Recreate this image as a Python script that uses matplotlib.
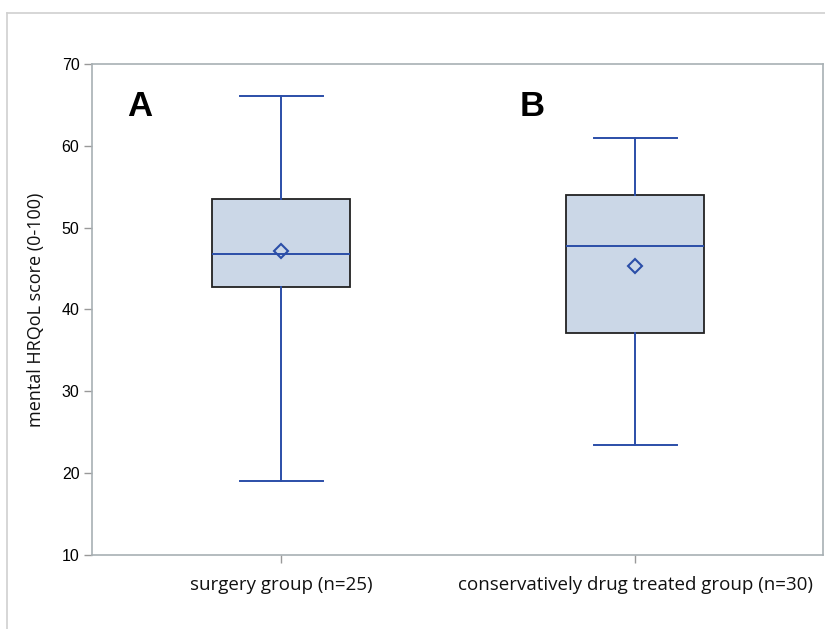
import matplotlib
matplotlib.use("Agg")
import matplotlib.pyplot as plt
from matplotlib.lines import Line2D

groups = ["surgery group (n=25)", "conservatively drug treated group (n=30)"]
panel_letters = ["A", "B"]
whisker_low = [19.0, 23.5]
q1 = [42.8, 37.1]
median = [46.8, 47.8]
mean = [47.2, 45.3]
q3 = [53.5, 54.0]
whisker_high = [66.1, 61.0]
yticks = [10, 20, 30, 40, 50, 60, 70]

W, H = 825, 629
fig = plt.figure(figsize=(W / 100, H / 100), dpi=100)

# outer frame lines (left and top)
fig.add_artist(Line2D([7 / W, 7 / W], [0, 1 - 13 / H], transform=fig.transFigure,
                      color="#d0d0d0", lw=1.2))
fig.add_artist(Line2D([7 / W, 1], [1 - 13 / H, 1 - 13 / H], transform=fig.transFigure,
                      color="#d0d0d0", lw=1.2))

left, right, top, bottom = 92, 823, 64, 555
ax = fig.add_axes([left / W, 1 - bottom / H, (right - left) / W, (bottom - top) / H])

stats = []
for i in range(len(groups)):
    stats.append(dict(whislo=whisker_low[i], q1=q1[i], med=median[i], mean=mean[i],
                      q3=q3[i], whishi=whisker_high[i], fliers=[]))

blue = "#2b4ea8"
ax.bxp(stats, positions=[1, 2], widths=0.39, showmeans=True, patch_artist=True,
       boxprops=dict(facecolor="#cbd7e7", edgecolor="#222222", linewidth=1.3),
       medianprops=dict(color=blue, linewidth=1.4),
       whiskerprops=dict(color=blue, linewidth=1.4),
       capprops=dict(color=blue, linewidth=1.4),
       capwidths=0.235,
       meanprops=dict(marker="D", markerfacecolor="none", markeredgecolor=blue,
                      markersize=7.5, markeredgewidth=1.5))

ax.set_xlim(0.465, 2.53)
ax.set_ylim(10, 70)
ax.set_yticks(yticks)
ax.set_xticks([1, 2])
ax.set_xticklabels(groups, fontsize=13.5, family=["Open Sans", "DejaVu Sans"], color="#111111")
for lbl in ax.get_yticklabels():
    lbl.set_fontsize(11.5)
    lbl.set_family(["Liberation Sans Narrow", "Liberation Sans", "DejaVu Sans"])
ax.tick_params(axis="both", color="#999999", length=6, width=1)
ax.tick_params(axis="x", pad=9)
ax.tick_params(axis="y", pad=3)
for s in ax.spines.values():
    s.set_color("#a8b0b4")
    s.set_linewidth(1.2)

ax.set_ylabel("mental HRQoL score (0-100)", fontsize=13,
              family=["Open Sans", "DejaVu Sans"], color="#111111", labelpad=12)

letter_x = [140, 532]
for i, letter in enumerate(panel_letters):
    fig.text(letter_x[i] / W, 1 - 106 / H, letter, fontsize=25, fontweight="bold",
             family=["Liberation Sans", "DejaVu Sans"], ha="center", va="center")

fig.savefig("out.png", dpi=100)
